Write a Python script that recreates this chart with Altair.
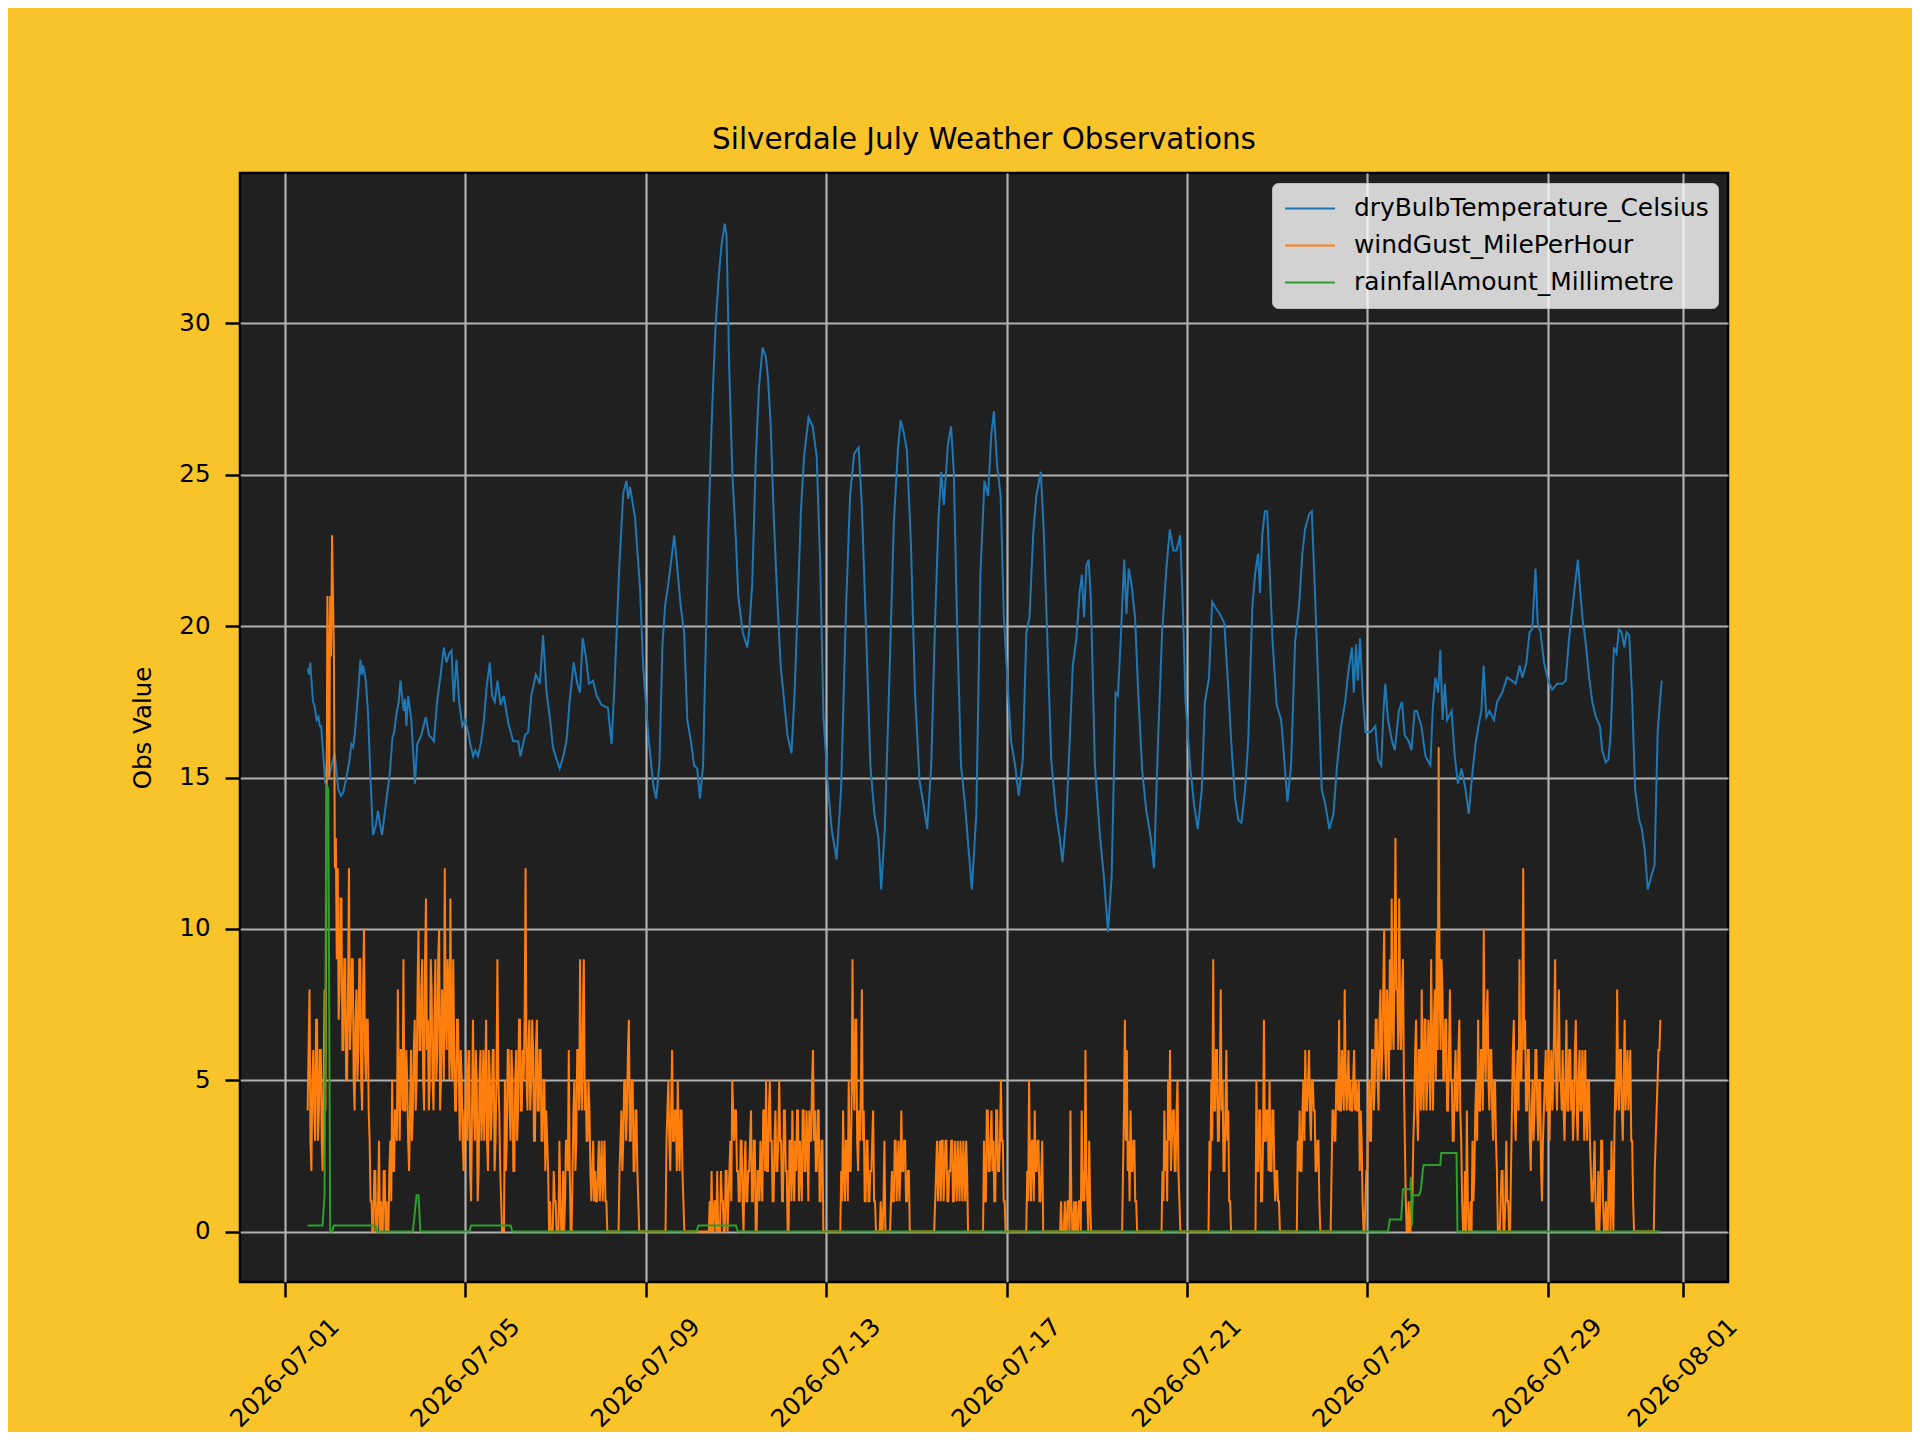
import altair as alt
import pandas as pd

TITLE = "Silverdale July Weather Observations"
Y_TITLE = "Obs Value"
SERIES = ["dryBulbTemperature_Celsius", "windGust_MilePerHour", "rainfallAmount_Millimetre"]
COLORS = ["#1f77b4", "#ff7f0e", "#2ca02c"]
X_TICKS = ["2026-07-01", "2026-07-05", "2026-07-09", "2026-07-13", "2026-07-17",
           "2026-07-21", "2026-07-25", "2026-07-29", "2026-08-01"]
Y_TICKS = [0, 5, 10, 15, 20, 25, 30]

# temperature: [days since 2026-07-01 00:00, value]
temp_points = [
    [0.50, 18.6], [0.53, 18.4], [0.56, 18.8], [0.58, 18.3], [0.62, 17.5], [0.65, 17.4],
    [0.70, 16.9], [0.74, 17.0], [0.77, 16.7], [0.80, 16.7], [0.84, 15.9], [0.89, 14.8],
    [0.93, 15.6], [0.97, 15.0], [1.03, 15.4], [1.10, 15.8], [1.18, 14.6], [1.24, 14.4],
    [1.29, 14.5], [1.36, 15.0], [1.42, 15.5], [1.47, 16.1], [1.51, 16.0], [1.55, 16.5],
    [1.62, 17.8], [1.67, 18.9], [1.70, 18.4], [1.73, 18.7], [1.79, 18.2], [1.84, 17.1],
    [1.89, 15.1], [1.95, 13.1], [2.01, 13.4], [2.06, 13.9], [2.10, 13.5], [2.15, 13.1],
    [2.25, 14.3], [2.32, 15.1], [2.38, 16.3], [2.42, 16.5], [2.47, 17.1], [2.52, 17.5],
    [2.56, 18.2], [2.60, 17.6], [2.63, 17.2], [2.66, 17.6], [2.69, 16.7], [2.73, 17.7],
    [2.80, 16.9], [2.88, 14.8], [2.93, 16.1], [3.02, 16.4], [3.12, 17.0], [3.19, 16.4],
    [3.25, 16.3], [3.30, 16.2], [3.37, 17.5], [3.45, 18.4], [3.52, 19.3], [3.58, 18.8],
    [3.64, 19.1], [3.69, 19.2], [3.74, 17.5], [3.80, 18.9], [3.86, 17.5], [3.93, 16.7],
    [3.99, 16.9], [4.06, 16.5], [4.11, 16.1], [4.17, 15.7], [4.22, 15.9], [4.28, 15.7],
    [4.35, 16.2], [4.41, 16.9], [4.47, 18.0], [4.54, 18.8], [4.59, 17.7], [4.65, 17.5],
    [4.71, 18.2], [4.78, 17.4], [4.85, 17.7], [4.95, 16.8], [5.06, 16.2], [5.17, 16.2],
    [5.22, 15.7], [5.32, 16.4], [5.39, 16.5], [5.46, 17.7], [5.56, 18.4], [5.65, 18.1],
    [5.72, 19.7], [5.80, 17.8], [5.87, 17.0], [5.94, 16.0], [6.02, 15.6], [6.09, 15.3],
    [6.17, 15.7], [6.24, 16.2], [6.31, 17.5], [6.40, 18.8], [6.48, 18.1], [6.54, 17.8],
    [6.60, 19.6], [6.67, 19.0], [6.74, 18.1], [6.83, 18.2], [6.91, 17.7], [7.02, 17.4],
    [7.16, 17.3], [7.24, 16.1], [7.31, 18.2], [7.41, 21.9], [7.50, 24.4], [7.57, 24.8],
    [7.61, 24.2], [7.65, 24.6], [7.76, 23.6], [7.87, 21.3], [7.94, 18.7], [8.06, 16.3],
    [8.17, 14.7], [8.23, 14.3], [8.30, 15.4], [8.37, 19.4], [8.43, 20.7], [8.48, 21.2],
    [8.55, 22.0], [8.63, 23.0], [8.70, 21.9], [8.77, 20.7], [8.85, 19.8], [8.92, 16.9],
    [9.00, 16.2], [9.07, 15.4], [9.14, 15.3], [9.20, 14.3], [9.27, 15.4], [9.33, 19.4],
    [9.39, 23.3], [9.44, 25.8], [9.49, 27.9], [9.55, 30.0], [9.62, 31.6], [9.68, 32.6],
    [9.75, 33.3], [9.79, 32.9], [9.85, 28.5], [9.92, 25.0], [10.00, 22.8], [10.05, 21.0],
    [10.15, 19.8], [10.25, 19.3], [10.29, 19.8], [10.36, 21.4], [10.44, 25.6], [10.51, 27.9],
    [10.59, 29.2], [10.66, 28.9], [10.71, 28.2], [10.77, 26.6], [10.84, 23.5], [10.92, 20.8],
    [10.99, 18.7], [11.07, 17.5], [11.14, 16.4], [11.23, 15.8], [11.30, 17.8], [11.36, 20.3],
    [11.44, 23.8], [11.51, 25.6], [11.61, 26.9], [11.70, 26.6], [11.79, 25.6], [11.87, 21.9],
    [11.94, 17.0], [12.03, 14.9], [12.12, 13.3], [12.23, 12.3], [12.33, 14.6], [12.44, 20.6],
    [12.53, 24.3], [12.62, 25.7], [12.72, 25.9], [12.79, 24.0], [12.88, 20.1], [12.98, 15.4],
    [13.07, 13.8], [13.16, 13.0], [13.22, 11.3], [13.30, 13.3], [13.40, 18.2], [13.50, 23.4],
    [13.59, 25.8], [13.65, 26.8], [13.72, 26.4], [13.79, 25.8], [13.88, 22.7], [13.97, 17.8],
    [14.07, 14.9], [14.16, 14.1], [14.24, 13.3], [14.33, 15.4], [14.42, 20.4], [14.49, 23.5],
    [14.55, 25.1], [14.61, 24.0], [14.70, 26.0], [14.77, 26.6], [14.83, 25.1], [14.90, 20.3],
    [14.99, 15.4], [15.08, 14.1], [15.16, 12.6], [15.23, 11.3], [15.33, 13.8], [15.42, 21.7],
    [15.51, 24.8], [15.59, 24.3], [15.66, 26.3], [15.72, 27.1], [15.79, 25.3], [15.87, 24.3],
    [15.94, 20.3], [16.02, 18.2], [16.10, 16.2], [16.19, 15.4], [16.27, 14.4], [16.36, 15.6],
    [16.44, 19.8], [16.51, 20.3], [16.59, 23.0], [16.66, 24.3], [16.76, 25.1], [16.83, 23.0],
    [16.90, 19.8], [16.99, 15.6], [17.10, 13.8], [17.18, 13.0], [17.24, 12.2], [17.33, 13.8],
    [17.40, 16.2], [17.47, 18.7], [17.55, 19.6], [17.62, 21.1], [17.67, 21.7], [17.72, 20.3],
    [17.77, 22.0], [17.82, 22.2], [17.87, 20.9], [17.96, 15.4], [18.07, 13.1], [18.16, 11.7],
    [18.25, 9.9], [18.33, 11.7], [18.42, 17.8], [18.47, 17.7], [18.53, 19.5], [18.61, 22.2],
    [18.66, 20.4], [18.71, 21.9], [18.77, 21.4], [18.85, 20.3], [18.92, 17.8], [19.01, 15.2],
    [19.10, 13.9], [19.20, 13.0], [19.27, 12.0], [19.36, 16.2], [19.45, 19.8], [19.55, 22.0],
    [19.62, 23.2], [19.70, 22.5], [19.77, 22.5], [19.85, 23.0], [19.90, 21.1], [19.97, 17.5],
    [20.07, 15.4], [20.16, 14.1], [20.24, 13.3], [20.33, 14.6], [20.40, 17.5], [20.49, 18.3],
    [20.56, 20.8], [20.64, 20.6], [20.73, 20.4], [20.83, 20.1], [20.92, 17.9], [20.99, 16.0],
    [21.07, 14.3], [21.14, 13.6], [21.21, 13.5], [21.29, 14.6], [21.36, 16.2], [21.45, 20.6],
    [21.51, 21.7], [21.58, 22.4], [21.62, 21.1], [21.67, 23.0], [21.73, 23.8], [21.78, 23.8],
    [21.82, 22.4], [21.90, 19.5], [21.99, 17.4], [22.09, 16.9], [22.16, 15.6], [22.23, 14.2],
    [22.31, 15.4], [22.40, 19.5], [22.49, 20.7], [22.56, 22.4], [22.62, 23.2], [22.71, 23.7],
    [22.77, 23.8], [22.84, 21.1], [22.92, 17.8], [22.99, 14.6], [23.07, 14.1], [23.16, 13.3],
    [23.25, 13.8], [23.33, 15.4], [23.42, 16.7], [23.51, 17.5], [23.58, 18.5], [23.66, 19.3],
    [23.70, 17.8], [23.75, 19.4], [23.79, 18.2], [23.84, 19.6], [23.90, 17.7], [23.96, 16.5],
    [24.07, 16.5], [24.18, 16.7], [24.24, 15.6], [24.31, 15.4], [24.36, 17.2], [24.40, 18.1],
    [24.46, 16.9], [24.55, 16.2], [24.61, 15.9], [24.70, 17.2], [24.77, 17.5], [24.83, 16.4],
    [24.92, 16.2], [24.98, 15.9], [25.05, 17.2], [25.10, 17.2], [25.20, 16.7], [25.29, 15.7],
    [25.40, 15.4], [25.45, 17.2], [25.51, 18.3], [25.57, 17.8], [25.62, 19.2], [25.67, 16.9],
    [25.72, 18.1], [25.77, 16.9], [25.87, 17.2], [25.94, 15.7], [26.01, 14.8], [26.09, 15.3],
    [26.18, 14.6], [26.25, 13.8], [26.34, 15.3], [26.41, 16.2], [26.49, 16.9], [26.53, 17.2],
    [26.58, 18.7], [26.64, 17.0], [26.71, 17.2], [26.81, 16.9], [26.88, 17.5], [26.99, 17.8],
    [27.10, 18.3], [27.21, 18.2], [27.29, 18.1], [27.38, 18.7], [27.44, 18.3], [27.53, 18.8],
    [27.60, 19.8], [27.66, 19.9], [27.73, 21.9], [27.78, 20.1], [27.84, 19.8], [27.92, 18.8],
    [28.01, 18.2], [28.10, 17.9], [28.21, 18.1], [28.33, 18.1], [28.40, 18.2], [28.47, 19.5],
    [28.55, 20.6], [28.61, 21.4], [28.67, 22.2], [28.71, 21.4], [28.77, 20.3], [28.84, 19.5],
    [28.92, 18.3], [28.99, 17.5], [29.07, 17.0], [29.16, 16.7], [29.21, 15.9], [29.29, 15.5],
    [29.35, 15.6], [29.40, 16.5], [29.47, 19.3], [29.53, 19.1], [29.58, 19.9], [29.64, 19.8],
    [29.70, 19.3], [29.75, 19.8], [29.81, 19.7], [29.87, 17.8], [29.94, 14.6], [30.03, 13.6],
    [30.09, 13.3], [30.16, 12.5], [30.22, 11.3], [30.31, 11.8], [30.37, 12.1], [30.44, 16.5],
    [30.49, 17.5], [30.53, 18.2],
]

# wind gust, every 30 minutes; first list starts 2026-07-01 12:00, the others at 00:00
wind_first_hour = 12
wind_by_day = [
    [4, 6, 8, 3, 2, 5, 6, 4, 3, 7, 7, 3, 4, 6, 6, 3, 2, 5, 8, 4, 12, 21, 19, 15],
    [21, 19, 23, 21, 19, 12, 13, 9, 12, 7, 8, 11, 11, 6, 6, 9, 9, 5, 5, 8, 12, 6, 7, 9,
     9, 5, 4, 7, 8, 5, 6, 9, 9, 5, 4, 8, 10, 6, 5, 7, 7, 4, 3, 1, 1, 0, 0, 2],
    [2, 0, 0, 1, 3, 0, 1, 0, 0, 2, 2, 0, 1, 0, 0, 2, 3, 1, 5, 2, 2, 4, 4, 3,
     8, 5, 3, 6, 6, 4, 9, 4, 4, 6, 5, 3, 2, 4, 6, 3, 4, 6, 7, 4, 5, 8, 10, 6],
    [6, 8, 9, 5, 4, 9, 11, 6, 7, 4, 5, 9, 8, 5, 4, 7, 9, 5, 6, 9, 10, 4, 5, 8,
     7, 5, 12, 7, 6, 9, 8, 5, 11, 6, 5, 9, 6, 4, 4, 7, 7, 5, 3, 6, 5, 3, 2, 4],
    [4, 6, 3, 5, 6, 2, 1, 4, 7, 4, 3, 6, 5, 1, 2, 5, 6, 3, 4, 6, 3, 5, 7, 3,
     2, 6, 5, 3, 4, 6, 6, 2, 3, 5, 9, 5, 4, 2, 1, 0, 0, 0, 5, 2, 3, 6, 6, 4],
    [3, 6, 5, 2, 2, 5, 6, 3, 4, 7, 7, 4, 4, 6, 5, 7, 12, 5, 4, 6, 7, 4, 5, 7,
     6, 3, 3, 6, 7, 4, 4, 6, 6, 3, 3, 5, 5, 2, 4, 3, 2, 0, 1, 0, 0, 0, 2, 1],
    [1, 0, 0, 0, 3, 1, 0, 0, 2, 0, 1, 3, 3, 2, 6, 2, 0, 0, 2, 4, 5, 2, 3, 6,
     6, 4, 9, 5, 4, 7, 9, 4, 5, 3, 3, 5, 4, 2, 1, 2, 3, 1, 2, 1, 1, 2, 3, 1],
    [2, 3, 1, 2, 3, 1, 1, 0, 0, 0, 0, 0, 0, 0, 0, 0, 0, 0, 0, 0, 2, 3, 4, 2,
     3, 5, 5, 3, 4, 6, 7, 3, 3, 5, 5, 2, 2, 4, 4, 2, 1, 0, 0, 0, 0, 0, 0, 0],
    [0, 0, 0, 0, 0, 0, 0, 0, 0, 0, 0, 0, 0, 0, 0, 0, 0, 0, 0, 0, 0, 0, 3, 4,
     5, 3, 2, 4, 6, 3, 3, 4, 4, 2, 5, 3, 2, 4, 4, 2, 1, 0, 0, 0, 0, 0, 0, 0],
    [0, 0, 0, 0, 0, 0, 0, 0, 0, 0, 0, 0, 0, 0, 0, 0, 0, 0, 0, 0, 1, 0, 2, 0,
     0, 1, 1, 0, 2, 0, 0, 0, 2, 1, 1, 0, 0, 2, 2, 0, 1, 2, 3, 1, 5, 4, 3, 4],
    [4, 2, 2, 1, 1, 3, 3, 1, 0, 2, 3, 1, 1, 2, 2, 3, 4, 1, 1, 3, 3, 0, 0, 2,
     2, 1, 3, 2, 1, 4, 4, 2, 5, 2, 2, 4, 5, 3, 3, 1, 1, 3, 4, 2, 2, 3, 5, 3],
    [3, 1, 1, 4, 4, 2, 2, 0, 0, 3, 3, 1, 4, 2, 1, 3, 2, 4, 4, 1, 3, 2, 1, 4,
     4, 2, 2, 4, 3, 1, 4, 3, 3, 5, 6, 3, 4, 2, 2, 4, 4, 1, 1, 3, 3, 0, 0, 0],
    [0, 0, 0, 0, 0, 0, 0, 0, 0, 0, 0, 0, 0, 0, 0, 0, 2, 1, 4, 2, 1, 3, 3, 1,
     5, 2, 2, 4, 9, 5, 4, 7, 7, 3, 2, 4, 3, 5, 8, 3, 4, 1, 1, 3, 3, 1, 1, 2],
    [2, 3, 4, 1, 1, 0, 0, 0, 0, 0, 1, 0, 0, 1, 3, 0, 0, 0, 0, 0, 0, 1, 2, 1,
     1, 3, 3, 1, 2, 3, 1, 2, 4, 2, 2, 3, 3, 1, 1, 2, 2, 0, 0, 0, 0, 0, 0, 0],
    [0, 0, 0, 0, 0, 0, 0, 0, 0, 0, 0, 0, 0, 0, 0, 0, 0, 0, 0, 0, 1, 2, 3, 1,
     2, 3, 1, 3, 3, 1, 2, 3, 3, 1, 1, 2, 2, 3, 3, 1, 1, 3, 2, 1, 3, 2, 1, 3],
    [2, 1, 3, 2, 1, 3, 2, 0, 0, 0, 0, 0, 0, 0, 0, 0, 0, 0, 0, 0, 0, 0, 0, 0,
     3, 1, 1, 4, 4, 2, 2, 3, 4, 2, 3, 1, 1, 4, 4, 2, 2, 3, 5, 3, 3, 1, 1, 0],
    [0, 0, 0, 0, 0, 0, 0, 0, 0, 0, 0, 0, 0, 0, 0, 0, 0, 0, 0, 0, 0, 0, 2, 1,
     5, 2, 1, 3, 3, 1, 4, 2, 2, 3, 3, 1, 1, 2, 3, 0, 0, 0, 0, 0, 0, 0, 0, 0],
    [0, 0, 0, 0, 0, 0, 0, 0, 0, 0, 1, 0, 0, 0, 1, 0, 0, 1, 1, 0, 4, 1, 0, 0,
     1, 0, 1, 0, 0, 1, 1, 0, 4, 1, 2, 1, 6, 2, 1, 0, 3, 1, 0, 0, 0, 0, 0, 0],
    [0, 0, 0, 0, 0, 0, 0, 0, 0, 0, 0, 0, 0, 0, 0, 0, 0, 0, 0, 0, 0, 0, 0, 0,
     0, 0, 0, 0, 2, 4, 7, 3, 6, 2, 3, 1, 4, 2, 2, 3, 3, 1, 1, 0, 0, 0, 0, 0],
    [0, 0, 0, 0, 0, 0, 0, 0, 0, 0, 0, 0, 0, 0, 0, 0, 0, 0, 0, 0, 0, 0, 2, 1,
     4, 2, 3, 1, 5, 3, 6, 2, 3, 4, 4, 2, 2, 4, 5, 2, 1, 0, 0, 0, 0, 0, 0, 0],
    [0, 0, 0, 0, 0, 0, 0, 0, 0, 0, 0, 0, 0, 0, 0, 0, 0, 0, 0, 0, 0, 0, 0, 0,
     3, 2, 5, 3, 9, 4, 4, 6, 6, 3, 3, 5, 8, 4, 5, 2, 2, 4, 6, 3, 4, 1, 1, 0],
    [0, 0, 0, 0, 0, 0, 0, 0, 0, 0, 0, 0, 0, 0, 0, 0, 0, 0, 0, 0, 0, 0, 0, 0,
     0, 0, 5, 2, 2, 4, 4, 1, 1, 3, 7, 3, 3, 4, 4, 2, 5, 2, 2, 4, 4, 2, 1, 2],
    [2, 1, 1, 0, 0, 0, 0, 0, 0, 0, 0, 0, 0, 0, 0, 0, 0, 0, 0, 0, 0, 0, 3, 2,
     4, 2, 2, 4, 5, 3, 6, 4, 4, 5, 6, 4, 3, 5, 5, 4, 4, 2, 2, 3, 3, 1, 0, 0],
    [0, 0, 0, 0, 0, 0, 0, 0, 0, 0, 2, 4, 4, 3, 3, 5, 5, 4, 7, 4, 4, 6, 5, 4,
     8, 5, 4, 5, 6, 4, 5, 4, 4, 5, 6, 4, 5, 4, 4, 5, 2, 4, 3, 1, 0, 0, 1, 2],
    [2, 4, 5, 3, 3, 6, 6, 4, 5, 7, 7, 5, 4, 7, 8, 5, 6, 8, 10, 6, 5, 8, 7, 5,
     9, 6, 11, 7, 6, 9, 13, 8, 8, 6, 11, 7, 6, 8, 9, 5, 3, 1, 0, 0, 1, 0, 0, 1],
    [1, 3, 4, 6, 7, 4, 3, 6, 6, 4, 8, 5, 4, 7, 7, 4, 5, 7, 6, 4, 9, 6, 4, 7,
     8, 5, 10, 6, 16, 8, 6, 9, 8, 5, 5, 7, 7, 4, 4, 6, 8, 5, 5, 3, 3, 5, 6, 4],
    [4, 6, 7, 4, 3, 1, 0, 0, 2, 0, 4, 1, 0, 0, 1, 0, 3, 1, 2, 4, 5, 3, 7, 4,
     4, 6, 6, 4, 10, 6, 5, 7, 8, 5, 4, 6, 6, 4, 3, 5, 5, 3, 2, 0, 0, 0, 1, 2],
    [2, 0, 0, 1, 3, 1, 1, 0, 0, 2, 4, 6, 7, 4, 3, 5, 6, 4, 9, 5, 5, 7, 12, 6,
     7, 4, 4, 6, 6, 3, 2, 4, 5, 3, 4, 6, 6, 4, 3, 5, 5, 2, 1, 3, 4, 5, 6, 4],
    [4, 6, 3, 5, 6, 4, 5, 7, 9, 5, 4, 6, 8, 5, 5, 4, 6, 4, 3, 5, 7, 4, 4, 6,
     6, 4, 5, 3, 4, 6, 7, 4, 3, 5, 6, 4, 4, 6, 5, 3, 6, 4, 3, 5, 5, 3, 2, 1],
    [1, 2, 3, 1, 0, 0, 2, 0, 1, 3, 3, 1, 0, 0, 1, 0, 0, 2, 2, 0, 3, 1, 0, 3,
     5, 4, 8, 5, 4, 6, 6, 4, 3, 5, 7, 4, 5, 6, 4, 5, 6, 3, 3, 1, 0, 0, 0, 0],
    [0, 0, 0, 0, 0, 0, 0, 0, 0, 0, 0, 0, 0, 0, 0, 0, 0, 0, 2, 3, 4, 5, 6, 6, 7],
]

# rainfall: [days since 2026-07-01 00:00, value] at every change of level
rain_points = [
    [0.50, 0.2], [0.83, 0.2], [0.875, 1.2], [0.917, 14.8], [0.958, 14.6], [1.0, 0.0],
    [1.042, 0.0], [1.083, 0.2], [2.0, 0.2], [2.042, 0.0], [2.833, 0.0], [2.875, 0.6],
    [2.917, 1.2], [2.958, 1.2], [3.0, 0.0], [4.083, 0.0], [4.125, 0.2], [5.0, 0.2],
    [5.042, 0.0], [9.125, 0.0], [9.167, 0.2], [10.0, 0.2], [10.042, 0.0], [24.458, 0.0],
    [24.5, 0.4], [24.75, 0.4], [24.792, 1.4], [24.958, 1.4], [24.97, 1.8], [24.99, 0.2],
    [25.01, 1.2], [25.15, 1.2], [25.19, 1.4], [25.23, 2.0], [25.25, 2.2], [25.62, 2.2],
    [25.64, 2.6], [25.98, 2.6], [26.0, 0.0], [30.5, 0.0],
]

base = pd.Timestamp("2026-07-01")


def to_times(days):
    return [(base + pd.Timedelta(days=d)).round("min") for d in days]


temp_df = pd.DataFrame({
    "t": to_times([p[0] for p in temp_points]),
    "v": [p[1] for p in temp_points],
    "series": SERIES[0],
})

wind_t, wind_v = [], []
for i, day in enumerate(wind_by_day):
    start = wind_first_hour if i == 0 else 0
    for k, val in enumerate(day):
        wind_t.append(base + pd.Timedelta(hours=i * 24 + start) + pd.Timedelta(minutes=30 * k))
        wind_v.append(val)
wind_df = pd.DataFrame({"t": wind_t, "v": wind_v, "series": SERIES[1]})

rain_df = pd.DataFrame({
    "t": to_times([p[0] for p in rain_points]),
    "v": [p[1] for p in rain_points],
    "series": SERIES[2],
})

FONT = "DejaVu Sans"
FS = 24.5


def dt(s):
    return alt.DateTime(year=int(s[0:4]), month=int(s[5:7]), date=int(s[8:10]))


x_enc = alt.X(
    "t:T",
    title=None,
    scale=alt.Scale(domain=[dt("2026-06-30"), dt("2026-08-02")]),
    axis=alt.Axis(
        values=[dt(s) for s in X_TICKS],
        format="%Y-%m-%d",
        labelAngle=315,
        labelAlign="center",
        labelBaseline="middle",
        labelPadding=76,
        labelFlush=False,
        labelOverlap=False,
        labelBound=False,
    ),
)

y_enc = alt.Y(
    "v:Q",
    title=Y_TITLE,
    scale=alt.Scale(domain=[-1.665, 34.97], nice=False, zero=False),
    axis=alt.Axis(
        values=Y_TICKS,
        labelPadding=15,
        titleX=-97,
        titleY=554.5,
        titleAngle=270,
        titleAlign="center",
        titleBaseline="middle",
    ),
)

color_enc = alt.Color(
    "series:N",
    scale=alt.Scale(domain=SERIES, range=COLORS),
    legend=alt.Legend(
        title=None,
        orient="top-right",
        offset=10,
        symbolType="stroke",
        symbolSize=2500,
        symbolStrokeWidth=2,
        symbolOffset=3,
        labelFontSize=24.9,
        labelFont=FONT,
        labelColor="black",
        labelLimit=800,
        labelOffset=18,
        clipHeight=33,
        fillColor="rgba(255,255,255,0.8)",
        strokeColor="rgba(204,204,204,0.8)",
        cornerRadius=6,
        padding=9,
        rowPadding=4,
    ),
)

temp = alt.Chart(temp_df).mark_line(strokeWidth=2).encode(x=x_enc, y=y_enc, color=color_enc)
wind = alt.Chart(wind_df).mark_line(strokeWidth=2).encode(x=x_enc, y=y_enc, color=color_enc)
rain = alt.Chart(rain_df).mark_line(strokeWidth=2).encode(x=x_enc, y=y_enc, color=color_enc)

chart = (
    alt.layer(temp, wind, rain)
    .properties(
        width=1488,
        height=1109,
        title=alt.TitleParams(
            TITLE, fontSize=29.4, fontWeight="normal", font=FONT, color="black",
            anchor="middle", baseline="alphabetic", offset=-5, frame="group",
        ),
        autosize=alt.AutoSizeParams(type="none"),
        padding={"left": 232, "top": 165, "right": 184, "bottom": 150},
        background="#F9C42A",
    )
    .configure(font=FONT)
    .configure_view(fill="#202020", stroke="black", strokeWidth=2.5)
    .configure_axis(
        domain=False,
        grid=True,
        gridColor="#b0b0b0",
        gridWidth=2.2,
        ticks=True,
        tickColor="black",
        tickWidth=2.5,
        tickSize=15,
        labelFont=FONT,
        labelFontSize=FS,
        labelColor="black",
        titleFont=FONT,
        titleFontSize=FS,
        titleFontWeight="normal",
        titleColor="black",
    )
)

chart.save("out.html", embed_options={"renderer": "svg", "actions": False})
